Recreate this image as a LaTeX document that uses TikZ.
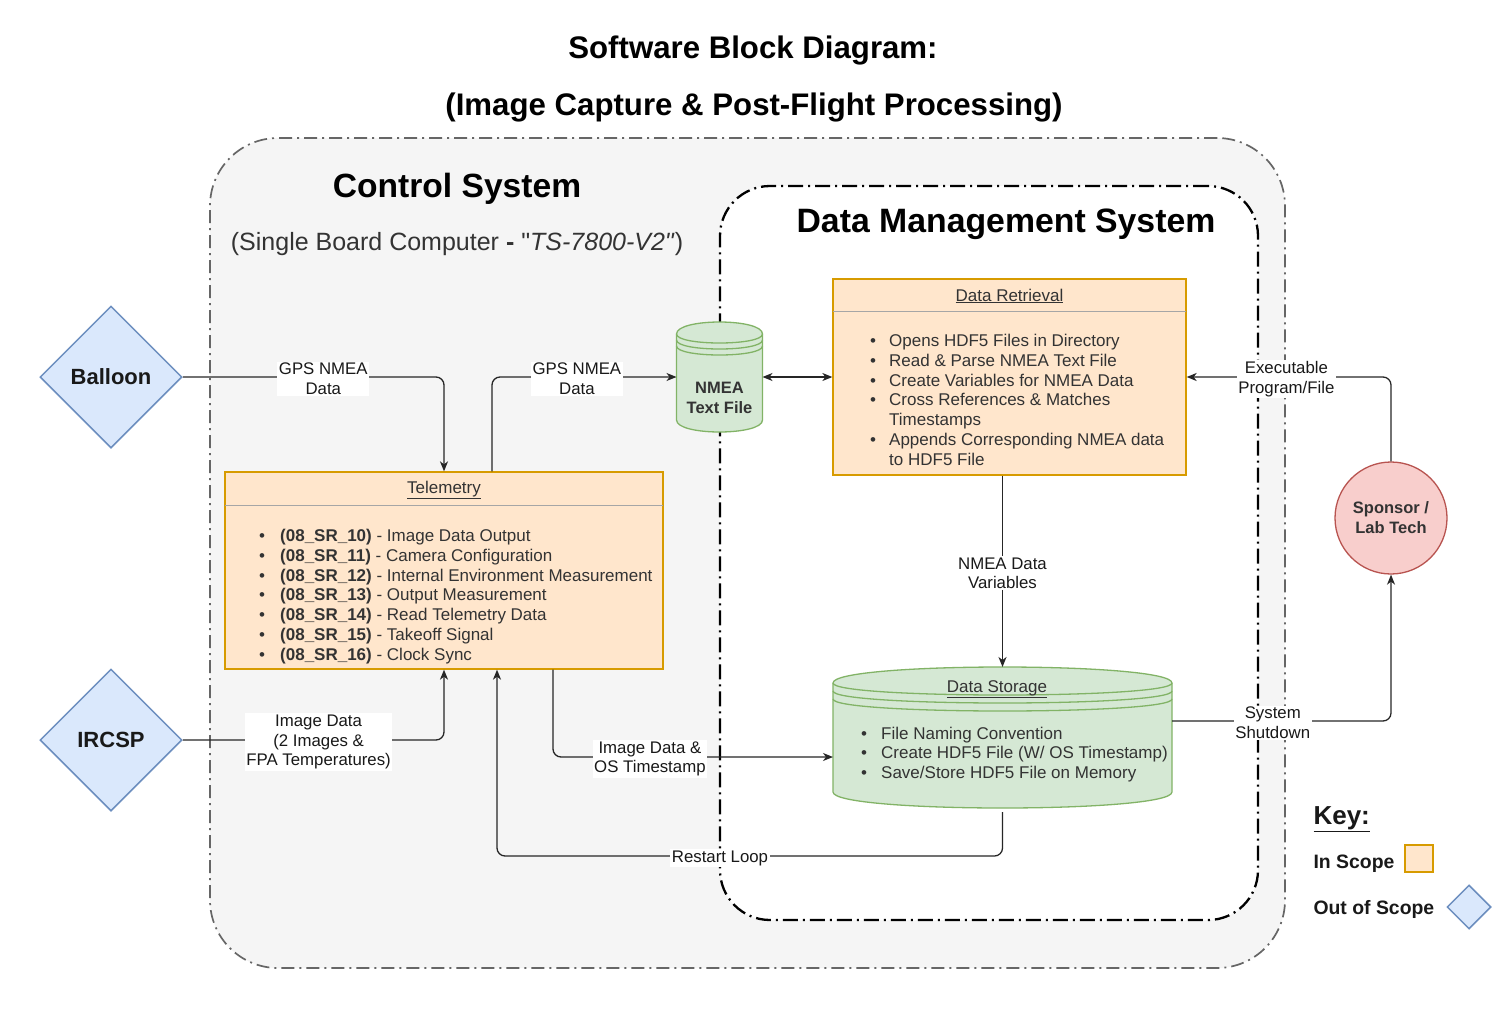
\documentclass[tikz,border=0pt]{standalone}
\usepackage{fontspec}
\setmainfont{Liberation Sans}[Ligatures=TeXOff]
\usetikzlibrary{shapes.geometric,arrows.meta,calc}
\definecolor{orfill}{HTML}{FFE6CC}
\definecolor{orline}{HTML}{D79B00}
\definecolor{grfill}{HTML}{D5E8D4}
\definecolor{grline}{HTML}{82B366}
\definecolor{blfill}{HTML}{DAE8FC}
\definecolor{blline}{HTML}{6C8EBF}
\definecolor{rdfill}{HTML}{F8CECC}
\definecolor{rdline}{HTML}{B85450}
\definecolor{contfill}{HTML}{F5F5F5}
\definecolor{txt}{HTML}{333333}
\newcommand{\fsz}[2]{\fontsize{#1}{#2}\selectfont}
\newcommand{\dstore}[5]{%
  \draw[dsbody] (#1,#2+#5) .. controls (#1,#2-#5/3) and (#1+#3,#2-#5/3) .. (#1+#3,#2+#5) -- (#1+#3,#2+#4-#5) .. controls (#1+#3,#2+#4+#5/3) and (#1,#2+#4+#5/3) .. (#1,#2+#4-#5) -- cycle;
  \foreach \k in {0,0.5,1}{%
    \draw[dsline] (#1,#2+#5+\k*#5) .. controls (#1,#2+2*#5+\k*#5) and (#1+#3,#2+2*#5+\k*#5) .. (#1+#3,#2+#5+\k*#5);}%
}
\tikzset{
  every node/.style={font=\fsz{17}{19.8}, text=txt},
  dsbody/.style={fill=grfill, draw=grline, line width=1.3pt},
  dsline/.style={draw=grline, line width=1.3pt},
  anchorbox/.style={inner sep=0pt, outer sep=0pt},
  inbox/.style={rectangle, fill=orfill, draw=orline, line width=1.3pt, inner sep=0pt},
  sepline/.style={draw=black!35, line width=1.2pt},
  outside/.style={diamond, aspect=1, fill=blfill, draw=blline, line width=1.5pt, inner sep=0pt, font=\bfseries\fsz{22}{26}, text=black!90},
  edge/.style={draw=black!85, line width=1.3pt, rounded corners=8pt, -{Stealth[length=10pt,width=8pt,inset=3pt]}},
  lbl/.style={fill=white, inner sep=1.5pt, align=center, text=black!90, font=\fsz{16.8}{19.6}, sharp corners, yshift=-2pt},
  outercont/.style={rectangle, draw=black!60, fill=contfill, line width=1.7pt, dash pattern=on 13pt off 5pt on 2pt off 5pt, rounded corners=68pt, inner sep=0pt},
  innercont/.style={rectangle, draw=black, fill=white, line width=2.3pt, dash pattern=on 15pt off 5pt on 2pt off 5pt, rounded corners=50pt, inner sep=0pt},
}
\begin{document}
\begin{tikzpicture}[x=1pt,y=-1pt]
\useasboundingbox (0,0) rectangle (1506,1022);
% titles
\node[font=\bfseries\fsz{31.2}{34}, text=black] (t1) at (753,51) {Software Block Diagram:};
\node[font=\bfseries\fsz{31.2}{34}, text=black] (t2) at (754,108) {(Image Capture \& Post-Flight Processing)};
% containers
\node[outercont, minimum width=1075pt, minimum height=830pt] (csys) at (747.5,553) {};
\node[innercont, minimum width=538pt, minimum height=734pt] (dms) at (989,553) {};
\node[font=\bfseries\fsz{33.6}{37}, text=black] (cst) at (457,189) {Control System};
\node[font=\fsz{25}{29}] (css) at (457,244) {(Single Board Computer \textbf{-} "\textit{TS-7800-V2"})};
\node[font=\bfseries\fsz{33.8}{37}, text=black] (dmt) at (1006,224) {Data Management System};
% outside entities
\node[outside, minimum width=142pt, minimum height=142pt] (balloon) at (111,377) {Balloon};
\node[outside, minimum width=142pt, minimum height=142pt] (ircsp) at (111,740) {IRCSP};
% NMEA text file
\dstore{676.5}{322}{86}{110}{12}
\node[anchorbox, minimum width=86pt, minimum height=110pt] (nmea) at (719.5,377) {};
\node[font=\bfseries\fsz{16.5}{20}, align=center] (nmeat) at (719.5,398) {NMEA\\Text File};
% Data retrieval
\node[inbox, minimum width=353pt, minimum height=196pt] (dr) at (1009.5,377) {};
\draw[sepline] ($(dr.north west)+(1,33)$) -- ($(dr.north east)+(-1,33)$);
\node (drt) at (1009.5,296) {\underline{Data Retrieval}};
\node[anchor=west, inner sep=0pt, align=left] (drl) at (870,402) {\begin{tabular}{@{}p{19pt}@{}l@{}}
• & Opens HDF5 Files in Directory\\
• & Read \& Parse NMEA Text File\\
• & Create Variables for NMEA Data\\
• & Cross References \& Matches\\
  & Timestamps\\
• & Appends Corresponding NMEA data\\
  & to HDF5 File
\end{tabular}};
% Telemetry
\node[inbox, minimum width=438pt, minimum height=197pt] (tele) at (444,570.5) {};
\draw[sepline] ($(tele.north west)+(1,34)$) -- ($(tele.north east)+(-1,34)$);
\node (telet) at (444,490) {\underline{Telemetry}};
\node[anchor=west, inner sep=0pt, align=left] (telel) at (259,597) {\begin{tabular}{@{}p{21pt}@{}l@{}}
• & \textbf{(08\_SR\_10)} - Image Data Output\\
• & \textbf{(08\_SR\_11)} - Camera Configuration\\
• & \textbf{(08\_SR\_12)} - Internal Environment Measurement\\
• & \textbf{(08\_SR\_13)} - Output Measurement\\
• & \textbf{(08\_SR\_14)} - Read Telemetry Data\\
• & \textbf{(08\_SR\_15)} - Takeoff Signal\\
• & \textbf{(08\_SR\_16)} - Clock Sync
\end{tabular}};
% Data storage
\dstore{833}{667}{339}{141}{16}
\node[anchorbox, minimum width=339pt, minimum height=141pt] (ds) at (1002.5,737.5) {};
\node (dst) at (997,689) {\underline{Data Storage}};
\node[anchor=west, inner sep=0pt, align=left] (dsl) at (861,755) {\begin{tabular}{@{}p{20pt}@{}l@{}}
• & File Naming Convention\\
• & Create HDF5 File (W/ OS Timestamp)\\
• & Save/Store HDF5 File on Memory
\end{tabular}};
% Sponsor
\node[circle, minimum size=112pt, inner sep=0pt, fill=rdfill, draw=rdline, line width=1.3pt, align=center, font=\bfseries\fsz{16.5}{20}] (sp) at (1391,518) {Sponsor /\\Lab Tech};
% edges
\draw[edge] (balloon.east) -| node[lbl, pos=0.269] {GPS NMEA\\Data} (tele.north);
\draw[edge] ([xshift=48pt]tele.north) |- node[lbl, pos=0.73] {GPS NMEA\\Data} (nmea.west);
\draw[edge, {Stealth[length=10pt,width=8pt,inset=3pt]}-{Stealth[length=10pt,width=8pt,inset=3pt]}] (nmea.east) -- (dr.west);
\draw[edge] (dr.south -| ds.north) -- node[lbl] {NMEA Data\\Variables} (ds.north);
\draw[edge] (ircsp.east) -| node[lbl, pos=0.26] {Image Data\\(2 Images \&\\FPA Temperatures)} (tele.south);
\draw[edge] ([xshift=109pt]tele.south) |- node[lbl, pos=0.673] {Image Data \&\\OS Timestamp} ([yshift=-19.5pt]ds.west);
\coordinate (rl) at (720,856);
\draw[edge] ([yshift=-4pt]ds.south) |- (rl) node[lbl] {Restart Loop} -| ([xshift=53pt]tele.south);
\draw[edge] ([yshift=16.5pt]ds.east) -| node[lbl, pos=0.23] {System\\Shutdown} (sp.south);
\draw[edge] (sp.north) |- node[lbl, pos=0.756] {Executable\\Program/File} (dr.east);
% key
\node[anchor=west, font=\bfseries\fsz{26}{30}, text=black!90] (key) at (1310,819) {\underline{Key:}};
\node[anchor=west, font=\bfseries\fsz{19.4}{22}, text=black!90] (ins) at (1310,864) {In Scope};
\node[inbox, minimum width=28pt, minimum height=27pt] (insb) at (1419,858.5) {};
\node[anchor=west, font=\bfseries\fsz{19.4}{22}, text=black!90] (outs) at (1310,909) {Out of Scope};
\node[diamond, aspect=1, fill=blfill, draw=blline, line width=1.5pt, inner sep=0pt, minimum width=44pt, minimum height=44pt] (outsd) at (1469,907) {};
\end{tikzpicture}
\end{document}
